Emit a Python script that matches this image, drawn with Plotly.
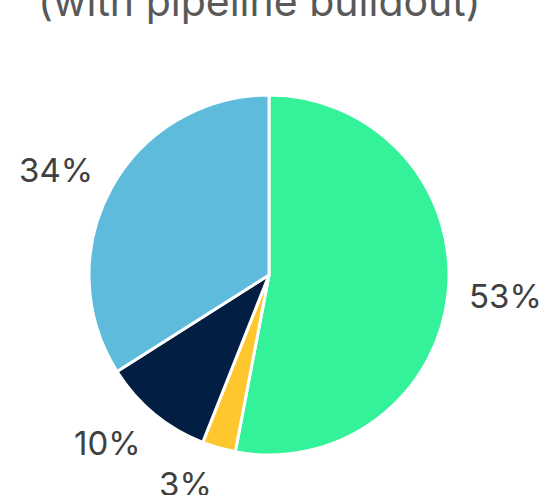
import numpy as np
import plotly.graph_objects as go

labels = ["Segment A", "Segment B", "Segment C", "Segment D"]
values = [53, 3, 10, 34]
text_labels = ["53%", "3%", "10%", "34%"]
colors = ["#33F29A", "#FEC72E", "#021E43", "#5EBBDB"]
title_text = "(with pipeline buildout)"

W, H = 545, 495
cx_px, cy_px, r_px = 269, 275, 180
label_rx_px, label_ry_px = 200, 218

dom_x = [(cx_px - r_px) / W, (cx_px + r_px) / W]
dom_y = [(H - cy_px - r_px) / H, (H - cy_px + r_px) / H]

fig = go.Figure(go.Pie(
    labels=labels,
    values=values,
    textinfo="none",
    sort=False,
    direction="clockwise",
    rotation=0,
    marker=dict(colors=colors, line=dict(color="white", width=3)),
    domain=dict(x=dom_x, y=dom_y),
    showlegend=False,
    hoverinfo="skip",
))

vals = np.array(values, dtype=float)
frac = vals / vals.sum()
mid = (np.cumsum(frac) - frac / 2) * 2 * np.pi
annotations = []
for t, a in zip(text_labels, mid):
    dx = label_rx_px * np.sin(a)
    dy = label_ry_px * np.cos(a)
    annotations.append(dict(
        text=t, showarrow=False, xref="paper", yref="paper",
        x=(cx_px + dx) / W, y=(H - cy_px + dy) / H,
        xanchor="left" if dx >= 0 else "right", yanchor="middle",
        font=dict(family="Inter", size=33, color="#404040"),
        borderpad=0,
    ))
annotations.append(dict(
    text=title_text, showarrow=False, xref="paper", yref="paper",
    x=259 / W, y=(H - 27) / H, xanchor="center", yanchor="bottom",
    font=dict(family="Inter", size=41, color="#595959"), borderpad=0,
))

fig.update_layout(
    width=W, height=H,
    margin=dict(l=0, r=0, t=0, b=0),
    paper_bgcolor="white",
    plot_bgcolor="white",
    annotations=annotations,
)

fig.write_html("out.html")
